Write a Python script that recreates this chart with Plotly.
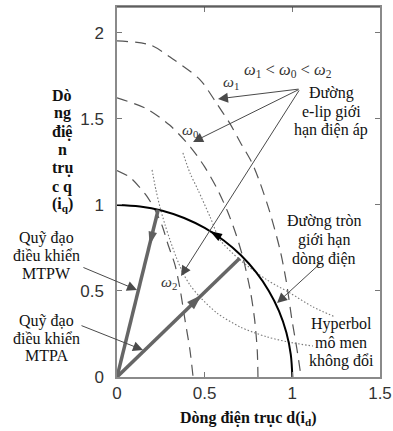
import math
import plotly.graph_objects as go

# ---------------- data ----------------
x_ticks = [0, 0.5, 1, 1.5]
x_tick_labels = ["0", "0.5", "1", "1.5"]
y_ticks = [0, 0.5, 1, 1.5, 2]
y_tick_labels = ["0", "0.5", "1", "1.5", "2"]

# current-limit circle (radius 1)
circle_id = [1.0, 0.991, 0.966, 0.924, 0.866, 0.793, 0.707, 0.609, 0.5, 0.383, 0.259, 0.131, 0.0]
circle_iq = [0.0, 0.131, 0.259, 0.383, 0.5, 0.609, 0.707, 0.793, 0.866, 0.924, 0.966, 0.991, 1.0]

# voltage-limit ellipses
ell_w1_id = [0.0, 0.188, 0.325, 0.474, 0.570, 0.645, 0.702, 0.770, 0.816, 0.873, 0.930, 0.964, 0.998, 1.027, 1.050]
ell_w1_iq = [1.953, 1.930, 1.843, 1.727, 1.587, 1.471, 1.366, 1.244, 1.128, 0.953, 0.738, 0.564, 0.331, 0.157, 0.0]

ell_w0_id = [0.0, 0.17, 0.30, 0.42, 0.50, 0.57, 0.63, 0.68, 0.72, 0.76, 0.785, 0.80, 0.804]
ell_w0_iq = [1.622, 1.558, 1.464, 1.335, 1.221, 1.096, 0.963, 0.825, 0.687, 0.503, 0.333, 0.153, 0.0]

ell_w2_id = [0.0, 0.074, 0.131, 0.171, 0.217, 0.257, 0.291, 0.331, 0.360, 0.388, 0.416, 0.434]
ell_w2_iq = [1.20, 1.16, 1.10, 1.05, 0.97, 0.88, 0.77, 0.65, 0.51, 0.33, 0.157, 0.0]

# constant-torque hyperbolas
hyp_low_id = [0.2, 0.222, 0.245, 0.274, 0.302, 0.337, 0.376, 0.416, 0.473, 0.570, 0.702, 0.856, 1.004, 1.118]
hyp_low_iq = [1.203, 1.087, 0.988, 0.884, 0.797, 0.698, 0.605, 0.535, 0.465, 0.372, 0.291, 0.233, 0.198, 0.180]

hyp_high_id = [0.376, 0.416, 0.462, 0.531, 0.588, 0.702, 0.856, 0.987, 1.118, 1.244]
hyp_high_iq = [1.302, 1.186, 1.087, 0.930, 0.797, 0.680, 0.564, 0.488, 0.407, 0.349]

# control trajectories
mtpa_id = [0.0, 0.70]
mtpa_iq = [0.0, 0.69]
mtpw_id = [0.0, 0.235]
mtpw_iq = [0.0, 0.972]

# ---------------- layout geometry ----------------
W, H = 393, 431
L, R, T, B = 117, 13, 7, 54
X0, X1 = 0.0, 1.5
Y0, Y1 = 0.0, 2.15
PW, PH = W - L - R, H - T - B
SX, SY = PW / (X1 - X0), PH / (Y1 - Y0)


def pxp(px):
    return (px - L) / PW


def pyp(py):
    return (H - B - py) / PH


SERIF = "Liberation Serif, Times New Roman, serif"
SANS = "Liberation Sans, Arial, sans-serif"

fig = go.Figure()

dash_style = dict(color="#555555", width=1.2, dash="11px,7px")
dot_style = dict(color="#7a7a7a", width=1.1, dash="1.5px,2px")

for xs, ys in [(ell_w1_id, ell_w1_iq), (ell_w0_id, ell_w0_iq), (ell_w2_id, ell_w2_iq)]:
    fig.add_trace(go.Scatter(x=xs, y=ys, mode="lines", line=dict(shape="spline", smoothing=0.8, **dash_style),
                             hoverinfo="skip", showlegend=False))
for xs, ys in [(hyp_low_id, hyp_low_iq), (hyp_high_id, hyp_high_iq)]:
    fig.add_trace(go.Scatter(x=xs, y=ys, mode="lines", line=dict(shape="spline", smoothing=0.8, **dot_style),
                             hoverinfo="skip", showlegend=False))

fig.add_trace(go.Scatter(x=circle_id, y=circle_iq, mode="lines",
                         line=dict(color="#000000", width=2, shape="spline"),
                         hoverinfo="skip", showlegend=False))

for xs, ys in [(mtpa_id, mtpa_iq), (mtpw_id, mtpw_iq)]:
    fig.add_trace(go.Scatter(x=xs, y=ys, mode="lines", line=dict(color="#666666", width=3.5),
                             hoverinfo="skip", showlegend=False))


# mid-line arrow heads (as rotated markers)
def head(x, y, dx, dy, color, size):
    ang = math.degrees(math.atan2(dx * SX, dy * SY))
    fig.add_trace(go.Scatter(x=[x], y=[y], mode="markers",
                             marker=dict(symbol="arrow", size=size, angle=ang, color=color,
                                         line=dict(width=0)),
                             hoverinfo="skip", showlegend=False))


head(0.482, 0.476, 0.70, 0.69, "#5f5f5f", 16)
head(0.186, 0.767, -0.235, -0.972, "#5f5f5f", 14)
head(0.53, 0.848, -0.848, 0.53, "#000000", 13)


# pointer arrows
def pointer(tip, tail, color="#4a4a4a"):
    fig.add_annotation(x=tip[0], y=tip[1], ax=tail[0], ay=tail[1], xref="x", yref="y",
                       axref="x", ayref="y", text="", showarrow=True, arrowhead=2,
                       arrowsize=2.0, arrowwidth=1, arrowcolor=color, standoff=0)


e_tail = (1.044, 1.674)
pointer((0.576, 1.616), e_tail)
pointer((0.434, 1.366), e_tail)
pointer((0.365, 0.587), e_tail)
pointer((0.913, 0.43), (1.169, 0.669))
pointer((0.114, 0.506), (-0.20, 0.64))
pointer((0.148, 0.157), (-0.211, 0.302))


# text helpers
def text_lines(lines, cx, cy_first, pitch, size, color="#111111", family=SERIF):
    for i, s in enumerate(lines):
        fig.add_annotation(x=pxp(cx), y=pyp(cy_first + i * pitch), xref="paper", yref="paper",
                           text=s, showarrow=False, xanchor="center", yanchor="middle",
                           font=dict(family=family, size=size, color=color))


text_lines(["<b>Dò</b>", "<b>ng</b>", "<b>điệ</b>", "<b>n</b>", "<b>trụ</b>", "<b>c q</b>",
            "<b>(i<sub>q</sub>)</b>"], 62, 95, 18.3, 16)
text_lines(["<b>Dòng điện trục d(i<sub>d</sub>)</b>"], 248, 418, 18, 16)
text_lines(["Quỹ đạo", "điều khiển", "MTPW"], 46, 238, 17.5, 16)
text_lines(["Quỹ đạo", "điều khiển", "MTPA"], 46, 321, 17.2, 16)
text_lines(["Đường", "e-lip giới", "hạn điện áp"], 331, 93, 18.5, 16)
text_lines(["Đường tròn", "giới hạn", "dòng điện"], 324, 221, 19.2, 16)
text_lines(["Hyperbol", "mô men", "không đổi"], 341, 324, 18.5, 16)

text_lines(["<i>ω</i><sub>1</sub> &lt; <i>ω</i><sub>0</sub> &lt; <i>ω</i><sub>2</sub>"], 288, 70, 18, 16.5, "#333333")
text_lines(["<i>ω</i><sub>1</sub>"], 231, 82, 18, 15.5, "#333333")
text_lines(["<i>ω</i><sub>0</sub>"], 190, 130, 18, 15.5, "#333333")
text_lines(["<i>ω</i><sub>2</sub>"], 169, 282, 18, 15.5, "#333333")

axis_common = dict(showgrid=False, zeroline=False, showline=True, linecolor="#8a8a8a", linewidth=1.5,
                   mirror="ticks", ticks="inside", ticklen=5, tickwidth=1, tickcolor="#777777",
                   tickfont=dict(family=SANS, size=17, color="#333333"), automargin=False)

fig.update_layout(
    width=W, height=H,
    margin=dict(l=L, r=R, t=T, b=B, pad=0),
    paper_bgcolor="white", plot_bgcolor="white",
    xaxis=dict(range=[X0, X1], tickvals=x_ticks, ticktext=x_tick_labels, ticklabelstandoff=0,
               **axis_common),
    yaxis=dict(range=[Y0, Y1], tickvals=y_ticks, ticktext=y_tick_labels, ticklabelstandoff=8,
               **axis_common),
    showlegend=False,
)

# darker thin top border as in the reference
fig.add_shape(type="line", xref="paper", yref="paper", x0=0, x1=1, y0=1, y1=1,
              line=dict(color="#333333", width=1))

fig.write_html("out.html", config={"displayModeBar": False},
               post_script="document.body.style.margin='0px';document.body.style.padding='0px';")
